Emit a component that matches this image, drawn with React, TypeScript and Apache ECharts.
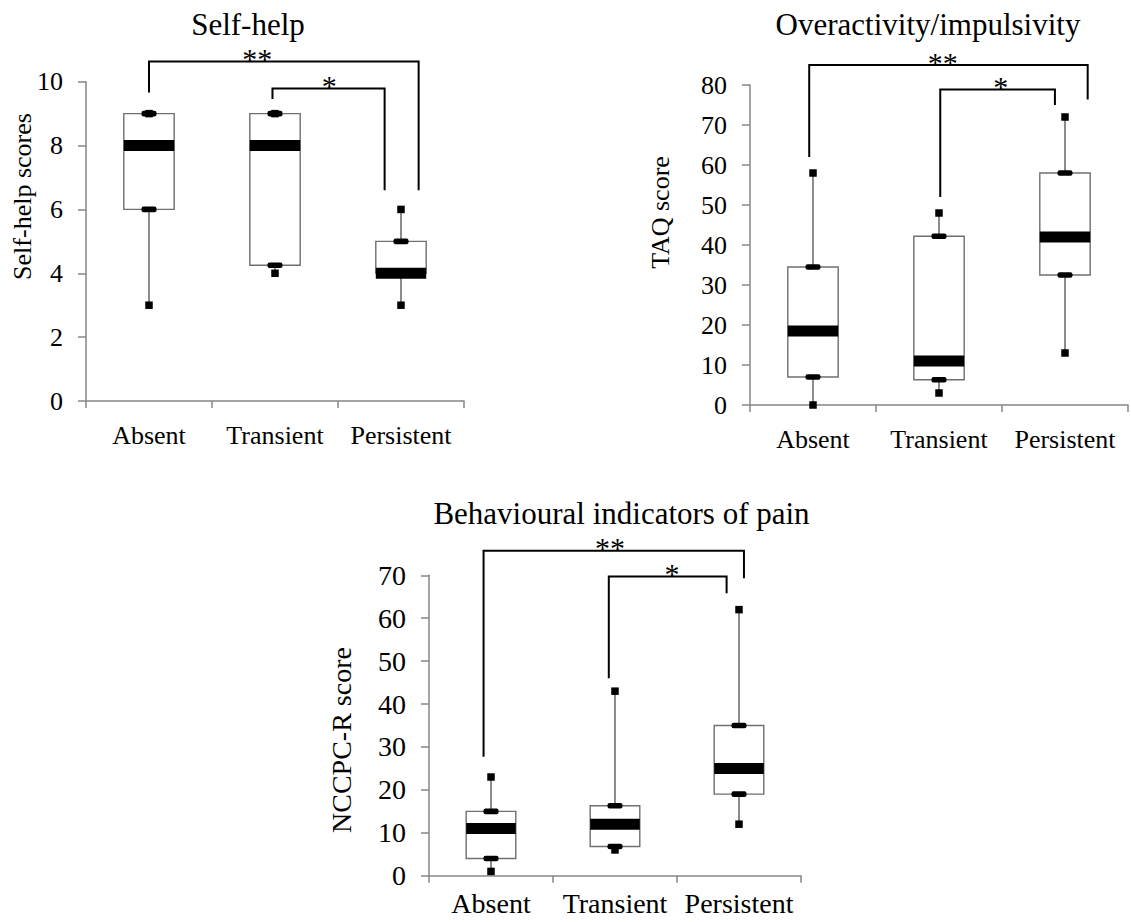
import React, { useEffect, useRef } from 'react';
import * as echarts from 'echarts';

// ---------- data ----------
const categories = ['Absent', 'Transient', 'Persistent'];

// per group: [min, Q1, median, Q3, max]
const selfHelpStats = [
  [3, 6, 8, 9, 9],
  [4, 4.25, 8, 9, 9],
  [3, 4, 4, 5, 6],
];
const taqStats = [
  [0, 7, 18.5, 34.5, 58],
  [3, 6.3, 11, 42.2, 48],
  [13, 32.5, 42, 58, 72],
];
const nccpcStats = [
  [1, 4, 11, 15, 23],
  [6, 6.8, 12, 16.3, 43],
  [12, 19, 25, 35, 62],
];

const panelTitles = ['Self-help', 'Overactivity/impulsivity', 'Behavioural indicators of pain'];
const yAxisNames = ['Self-help scores', 'TAQ score', 'NCCPC-R score'];
const yMaxes = [10, 80, 70];
const yIntervals = [2, 10, 10];

// significance brackets: [leftPos, rightPos, topValue, leftLegEnd, rightLegEnd, labelPos]
// positions are in category units (0 = Absent, 1 = Transient, 2 = Persistent)
const selfHelpBrackets = [
  [0, 2.14, 10.63, 9.66, 6.6, 0.86],
  [0.98, 1.87, 9.79, 9.46, 6.6, 1.43],
];
const taqBrackets = [
  [-0.03, 2.18, 85, 62, 76.4, 1.03],
  [1.01, 1.92, 78.9, 52, 75, 1.49],
];
const nccpcBrackets = [
  [-0.06, 2.04, 75.7, 27.7, 69.3, 0.96],
  [0.95, 1.9, 69.7, 46, 65.8, 1.46],
];
const bracketLabels = ['**', '*'];

// ---------- layout ----------
const FONT = '"Liberation Serif", "Times New Roman", serif';
const AXIS_COLOR = '#868686';
const LINE_GRAY = '#6f6f6f';

const grids = [
  { left: 86, top: 81.7, width: 378, height: 319.3 },
  { left: 750, top: 85, width: 378, height: 320 },
  { left: 429, top: 575.3, width: 372, height: 300.4 },
];
const tickFont = [26, 26, 28];
const catFont = [26, 26, 28];
const catMargin = [21, 21, 14];
const nameFont = [26, 26, 28];
const namePos = [
  [22.5, 196.5],
  [660.7, 212.5],
  [341.7, 740],
];
const titlePos = [
  [248, 24],
  [928, 24],
  [621.5, 513],
];

function boxRender(params: any, api: any) {
  const idx = api.value(0);
  const mn = api.value(1);
  const q1 = api.value(2);
  const md = api.value(3);
  const q3 = api.value(4);
  const mx = api.value(5);
  const band = api.size([1, 0])[0];
  const bw = band * 0.4;
  const cx = api.coord([idx, 0])[0];
  const y = (v: number) => api.coord([idx, v])[1];
  const children: any[] = [];
  const wStyle = { stroke: LINE_GRAY, lineWidth: 1.6 };
  if (mx > q3) {
    children.push({ type: 'line', shape: { x1: cx, y1: y(q3), x2: cx, y2: y(mx) }, style: wStyle });
  }
  if (mn < q1) {
    children.push({ type: 'line', shape: { x1: cx, y1: y(q1), x2: cx, y2: y(mn) }, style: wStyle });
  }
  children.push({
    type: 'rect',
    shape: { x: cx - bw / 2, y: y(q3), width: bw, height: y(q1) - y(q3) },
    style: { fill: '#fff', stroke: LINE_GRAY, lineWidth: 1.4 },
  });
  const sq = 7.5;
  [mn, mx].forEach((v) => {
    children.push({
      type: 'rect',
      shape: { x: cx - sq / 2, y: y(v) - sq / 2, width: sq, height: sq },
      style: { fill: '#000' },
    });
  });
  [q1, q3].forEach((v) => {
    children.push({
      type: 'rect',
      shape: { x: cx - 7.5, y: y(v) - 2.8, width: 15, height: 5.6, r: 2 },
      style: { fill: '#000' },
    });
  });
  children.push({
    type: 'rect',
    shape: { x: cx - bw / 2, y: y(md) - 5.5, width: bw, height: 11 },
    style: { fill: '#000' },
  });
  return { type: 'group', children };
}

function bracketRender(params: any, api: any) {
  const x0 = api.coord([0, 0])[0];
  const band = api.size([1, 0])[0];
  const px = (c: number) => x0 + c * band;
  const py = (v: number) => api.coord([0, v])[1];
  const l = px(api.value(0));
  const r = px(api.value(1));
  const top = py(api.value(2));
  const lb = py(api.value(3));
  const rb = py(api.value(4));
  const lx = px(api.value(5));
  return {
    type: 'group',
    children: [
      {
        type: 'polyline',
        shape: { points: [[l, lb], [l, top], [r, top], [r, rb]] },
        style: { stroke: '#000', lineWidth: 2, fill: 'none' },
      },
      {
        type: 'text',
        style: {
          x: lx,
          y: top - 3,
          text: bracketLabels[params.dataIndex],
          fill: '#000',
          font: `30px ${FONT}`,
          align: 'center',
          verticalAlign: 'middle',
        },
      },
    ],
  };
}

export default function App() {
  const ref = useRef<HTMLDivElement>(null);
  useEffect(() => {
    document.body.style.margin = '0';
    const chart = echarts.init(ref.current!, null, { renderer: 'svg' });
    const statsAll = [selfHelpStats, taqStats, nccpcStats];
    const bracketsAll = [selfHelpBrackets, taqBrackets, nccpcBrackets];

    const option: any = {
      animation: false,
      backgroundColor: '#fff',
      grid: grids.map((g) => ({ ...g, containLabel: false, outerBoundsMode: 'none' })),
      xAxis: grids.map((g, i) => ({
        type: 'category',
        gridIndex: i,
        data: categories,
        boundaryGap: true,
        axisLine: { lineStyle: { color: AXIS_COLOR, width: 1.5 } },
        axisTick: { show: true, length: 7, lineStyle: { color: AXIS_COLOR, width: 1.5 } },
        axisLabel: { color: '#000', fontFamily: FONT, fontSize: catFont[i], margin: catMargin[i], interval: 0 },
        splitLine: { show: false },
      })),
      yAxis: grids.map((g, i) => ({
        type: 'value',
        gridIndex: i,
        min: 0,
        max: yMaxes[i],
        interval: yIntervals[i],
        axisLine: { show: true, lineStyle: { color: AXIS_COLOR, width: 1.5 } },
        axisTick: { show: true, length: 8, lineStyle: { color: AXIS_COLOR, width: 1.5 } },
        axisLabel: { color: '#000', fontFamily: FONT, fontSize: tickFont[i], margin: 23 },
        splitLine: { show: false },
      })),
      series: [
        ...statsAll.map((stats, i) => ({
          type: 'custom',
          xAxisIndex: i,
          yAxisIndex: i,
          renderItem: boxRender,
          encode: { x: 0, y: [1, 2, 3, 4, 5] },
          data: stats.map((s, k) => [k, ...s]),
          z: 2,
        })),
        ...bracketsAll.map((br, i) => ({
          type: 'custom',
          xAxisIndex: i,
          yAxisIndex: i,
          renderItem: bracketRender,
          clip: false,
          encode: { x: [0, 1], y: [2, 3, 4] },
          data: br,
          z: 3,
        })),
      ],
      graphic: [
        ...panelTitles.map((t, i) => ({
          type: 'text',
          x: titlePos[i][0],
          y: titlePos[i][1],
          style: { text: t, fill: '#000', font: `31px ${FONT}`, align: 'center', verticalAlign: 'middle' },
        })),
        ...yAxisNames.map((t, i) => ({
          type: 'text',
          x: namePos[i][0],
          y: namePos[i][1],
          rotation: Math.PI / 2,
          style: { text: t, fill: '#000', font: `${nameFont[i]}px ${FONT}`, align: 'center', verticalAlign: 'middle' },
        })),
      ],
    };
    chart.setOption(option);
    return () => chart.dispose();
  }, []);
  return (
    <div
      ref={ref}
      style={{ position: 'absolute', left: 0, top: 0, width: 1131, height: 922, background: '#fff' }}
    />
  );
}
